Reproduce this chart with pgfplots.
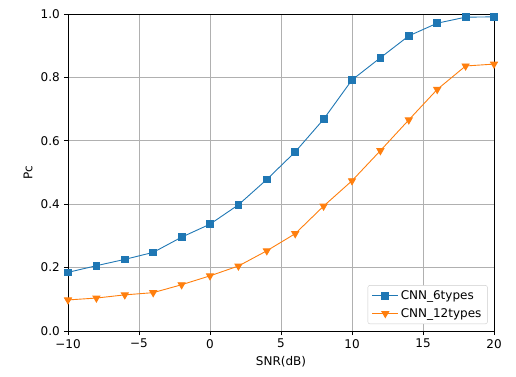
\documentclass[border=0pt]{standalone}
\usepackage{fontspec}
\setmainfont{DejaVu Sans}
\usepackage{pgfplots}
\pgfplotsset{compat=1.18}
\definecolor{tabblue}{HTML}{1F77B4}
\definecolor{taborange}{HTML}{FF7F0E}
\begin{document}
\fontsize{12}{14}\selectfont
\begin{tikzpicture}
  \begin{axis}[
      scale only axis,
      width=426pt, height=317pt,
      xmin=-10, xmax=20, ymin=0, ymax=1,
      xtick={-10,-5,0,5,10,15,20},
      xticklabels={−10,−5,0,5,10,15,20},
      ytick={0,0.2,0.4,0.6,0.8,1.0},
      yticklabel style={/pgf/number format/.cd, fixed, fixed zerofill, precision=1},
      /pgf/number format/assume math mode=true,
      tick align=outside, tick pos=left,
      major tick length=4pt,
      tick style={black, line width=0.8pt},
      grid=major,
      grid style={color=black!31, line width=0.9pt},
      axis line style={line width=0.9pt},
      xlabel={SNR(dB)}, ylabel={Pc},
      legend cell align=left,
      legend image code/.code={
        \draw[mark repeat=2, mark phase=2, #1] plot coordinates {(0pt,0pt) (13pt,0pt) (26pt,0pt)};
      },
      legend style={draw=black!20, rounded corners=2pt, inner xsep=4pt, inner ysep=3pt,
                    at={(0.985,0.022)}, anchor=south east, row sep=3pt},
  ]
    \addplot[color=tabblue, line width=0.9pt, mark=square*, mark size=3.4pt,
             mark options={solid, fill=tabblue}] coordinates {
      (-10,0.185) (-8,0.206) (-6,0.226) (-4,0.248) (-2,0.296) (0,0.337)
      (2,0.398) (4,0.478) (6,0.565) (8,0.668) (10,0.792) (12,0.862)
      (14,0.931) (16,0.971) (18,0.990) (20,0.991)};
    \addplot[color=taborange, line width=0.9pt, mark=triangle*, mark size=4pt,
             mark options={solid, fill=taborange, rotate=180}] coordinates {
      (-10,0.098) (-8,0.104) (-6,0.114) (-4,0.121) (-2,0.146) (0,0.174)
      (2,0.205) (4,0.253) (6,0.307) (8,0.394) (10,0.474) (12,0.569)
      (14,0.666) (16,0.762) (18,0.836) (20,0.842)};
    \legend{CNN\_6types, CNN\_12types}
  \end{axis}
  \path (current axis.south west) ++(-68pt,-45pt) coordinate (bl);
  \path (current axis.north east) ++(22pt,14pt) coordinate (tr);
  \useasboundingbox (bl) rectangle (tr);
\end{tikzpicture}
\end{document}
